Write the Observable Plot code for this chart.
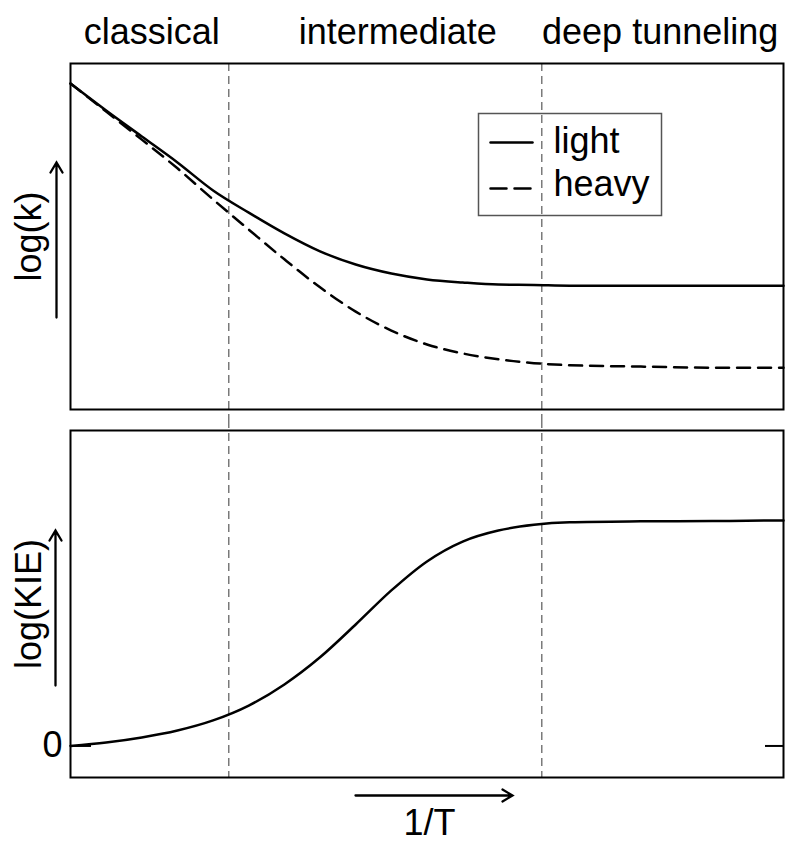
<!DOCTYPE html>
<html><head><meta charset="utf-8">
<script src="https://cdn.jsdelivr.net/npm/d3@7"></script>
<script src="https://cdn.jsdelivr.net/npm/@observablehq/plot@0.6"></script>
<style>
body{margin:0;background:#fff;}
#chart{width:785px;height:843px;font-family:"Liberation Sans",Arial,Helvetica,sans-serif;}
#chart svg{display:block;}
</style></head><body><div id="chart"></div>
<script>
// 1/T (arbitrary units)
const invT = [0, 0.5, 1, 1.5, 2, 2.5, 3, 3.5, 4, 4.5, 5, 5.5, 6, 6.5, 7, 8, 9, 10];
// log(k), arbitrary units
const logkLight = [9.42, 8.64, 7.89, 7.14, 6.33, 5.69, 5.09, 4.57, 4.19, 3.93, 3.76, 3.67, 3.61, 3.60, 3.58, 3.58, 3.58, 3.58];
const logkHeavy = [9.42, 8.61, 7.80, 6.97, 6.07, 5.20, 4.34, 3.53, 2.83, 2.28, 1.88, 1.62, 1.45, 1.34, 1.28, 1.24, 1.21, 1.21];
// log(KIE), arbitrary units
const logKIE = [0, 0.11, 0.27, 0.49, 0.81, 1.28, 1.95, 2.81, 3.85, 4.93, 5.85, 6.48, 6.83, 7.01, 7.09, 7.12, 7.13, 7.15];
// regimes
const regimeBounds = [2.22, 6.61];
const regimeNames = ["classical", "intermediate", "deep tunneling"];
const regimeLabelX = [1.14, 4.59, 8.27];
const seriesNames = ["light", "heavy"];
const kieTicks = [0];

const topData = invT.map((x, i) => ({x, light: logkLight[i], heavy: logkHeavy[i]}));
const botData = invT.map((x, i) => ({x, kie: logKIE[i]}));

const FONT = '"Liberation Sans", Arial, Helvetica, sans-serif';
const FS = 36;
const lineShape = {draw(ctx, l) { ctx.moveTo(0, 0); ctx.lineTo(0, -l); }};
const arrowShape = {draw(ctx, l) {
  ctx.moveTo(0, 0); ctx.lineTo(0, -l);
  ctx.moveTo(-6, -l + 10); ctx.lineTo(0, -l); ctx.lineTo(6, -l + 10);
}};
const dashStyle = {stroke: "#666", strokeWidth: 1.3, strokeDasharray: "8,5"};
const arrowStyle = {shape: arrowShape, strokeWidth: 2.3, stroke: "black", strokeLinejoin: "miter"};

const topPlot = Plot.plot({
  width: 785, height: 420,
  marginLeft: 70, marginRight: 2, marginTop: 63, marginBottom: 11,
  x: {domain: [0, 10], axis: null},
  y: {domain: [0, 10], axis: null},
  style: {fontFamily: FONT, background: "white", overflow: "visible", color: "black"},
  marks: [
    Plot.ruleX(regimeBounds, {...dashStyle, insetBottom: -11}),
    Plot.line(topData, {x: "x", y: "light", curve: "monotone-x", strokeWidth: 2.5, stroke: "black"}),
    Plot.line(topData, {x: "x", y: "heavy", curve: "monotone-x", strokeWidth: 2.5, stroke: "black", strokeDasharray: "13,8"}),
    Plot.frame({stroke: "black", strokeWidth: 2}),
    Plot.text(regimeNames, {x: (d, i) => regimeLabelX[i], frameAnchor: "top", dy: -20, textAnchor: "middle", lineAnchor: "bottom", fontSize: FS, fill: "black"}),
    Plot.text(["log(k)"], {frameAnchor: "left", rotate: -90, dx: -30, textAnchor: "middle", lineAnchor: "bottom", fontSize: FS, fill: "black"}),
    Plot.vector([0], {frameAnchor: "left", dx: -14, dy: 3.5, rotate: 0, length: 155, anchor: "middle", ...arrowStyle}),
    // legend
    Plot.frame({insetLeft: 408, insetRight: 122, insetTop: 50, insetBottom: 194, stroke: "#555", strokeWidth: 1.5}),
    Plot.vector([0], {frameAnchor: "top-left", dx: 420, dy: 79, rotate: 90, length: 42, anchor: "start", shape: lineShape, strokeWidth: 2.5, stroke: "black"}),
    Plot.vector([0], {frameAnchor: "top-left", dx: 420, dy: 125, rotate: 90, length: 40, anchor: "start", shape: lineShape, strokeWidth: 2.5, stroke: "black", strokeDasharray: "16,8"}),
    Plot.text([seriesNames[0]], {frameAnchor: "top-left", dx: 483, dy: 89, textAnchor: "start", lineAnchor: "bottom", fontSize: FS, fill: "black"}),
    Plot.text([seriesNames[1]], {frameAnchor: "top-left", dx: 483, dy: 132, textAnchor: "start", lineAnchor: "bottom", fontSize: FS, fill: "black"})
  ]
});

const botPlot = Plot.plot({
  width: 785, height: 423,
  marginLeft: 70, marginRight: 2, marginTop: 10, marginBottom: 66,
  x: {domain: [0, 10], axis: null},
  y: {domain: [-1, 10], axis: null},
  style: {fontFamily: FONT, background: "white", overflow: "visible", color: "black"},
  marks: [
    Plot.ruleX(regimeBounds, {...dashStyle, insetTop: -10}),
    Plot.line(botData, {x: "x", y: "kie", curve: "monotone-x", strokeWidth: 2.5, stroke: "black"}),
    Plot.ruleY(kieTicks, {strokeWidth: 2, stroke: "black", insetRight: 692}),
    Plot.ruleY(kieTicks, {strokeWidth: 2, stroke: "black", insetLeft: 695}),
    Plot.axisY({ticks: kieTicks, anchor: "left", tickSize: 0, tickPadding: 8, fontSize: FS, label: null, tickFormat: d => String(d), fill: "black"}),
    Plot.frame({stroke: "black", strokeWidth: 2}),
    Plot.text(["log(KIE)"], {frameAnchor: "left", rotate: -90, dx: -30, textAnchor: "middle", lineAnchor: "bottom", fontSize: FS, fill: "black"}),
    Plot.vector([0], {frameAnchor: "left", dx: -15, dy: 4, rotate: 0, length: 155, anchor: "middle", ...arrowStyle}),
    Plot.vector([0], {frameAnchor: "bottom", dx: 7, dy: 18, rotate: 90, length: 157, anchor: "middle", ...arrowStyle}),
    Plot.text(["1/T"], {frameAnchor: "bottom", dx: 2.5, dy: 57, textAnchor: "middle", lineAnchor: "bottom", fontSize: FS, fill: "black"})
  ]
});

const chart = document.getElementById("chart");
chart.appendChild(topPlot);
chart.appendChild(botPlot);
</script>
</body></html>
